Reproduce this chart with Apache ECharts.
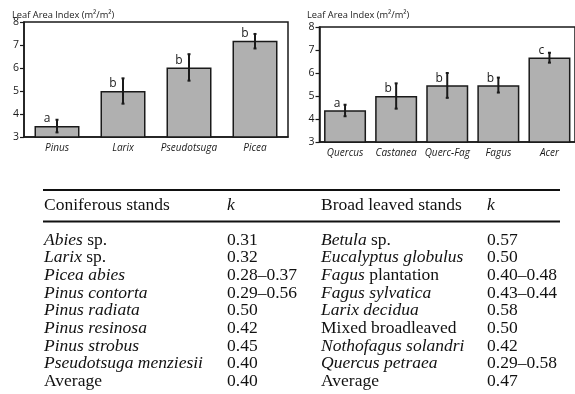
<!DOCTYPE html>
<html>
<head>
<meta charset="utf-8">
<script src="https://cdn.jsdelivr.net/npm/echarts@6/dist/echarts.min.js"></script>
<style>html,body{margin:0;padding:0;background:#fff}#c{width:575px;height:394px}</style>
</head>
<body>
<div id="c"></div>
<script>
// ---- data: left chart (coniferous) ----
const catsL = ['Pinus', 'Larix', 'Pseudotsuga', 'Picea'];
const laiL = [3.48, 5.0, 6.02, 7.18];
const errLowL = [3.2, 4.45, 5.45, 6.85];
const errHighL = [3.75, 5.55, 6.6, 7.48];
const lettersL = ['a', 'b', 'b', 'b'];
// ---- data: right chart (broadleaved) ----
const catsR = ['Quercus', 'Castanea', 'Querc-Fag', 'Fagus', 'Acer'];
const laiR = [4.38, 5.0, 5.47, 5.47, 6.67];
const errLowR = [4.12, 4.45, 4.92, 5.15, 6.45];
const errHighR = [4.62, 5.55, 6.0, 5.8, 6.88];
const lettersR = ['a', 'b', 'b', 'b', 'c'];
const yTitle = 'Leaf Area Index (m²/m²)';
const yMin = 3, yMax = 8, yStep = 1;
// ---- data: table ----
const tableHeaders = [['Coniferous stands', 'k'], ['Broad leaved stands', 'k']];
// name split into [italic part, upright part]
const coniferNames = [['Abies', ' sp.'], ['Larix', ' sp.'], ['Picea abies', ''], ['Pinus contorta', ''],
  ['Pinus radiata', ''], ['Pinus resinosa', ''], ['Pinus strobus', ''], ['Pseudotsuga menziesii', ''], ['', 'Average']];
const coniferK = ['0.31', '0.32', '0.28–0.37', '0.29–0.56', '0.50', '0.42', '0.45', '0.40', '0.40'];
const broadNames = [['Betula', ' sp.'], ['Eucalyptus globulus', ''], ['Fagus', ' plantation'], ['Fagus sylvatica', ''],
  ['Larix decidua', ''], ['', 'Mixed broadleaved'], ['Nothofagus solandri', ''], ['Quercus petraea', ''], ['', 'Average']];
const broadK = ['0.57', '0.50', '0.40–0.48', '0.43–0.44', '0.58', '0.50', '0.42', '0.29–0.58', '0.47'];

const sans = '"Open Sans", "Noto Sans", sans-serif';
const serif = '"Liberation Serif", "Times New Roman", serif';
const ink = '#1a1a1a';

function errSeries(idx, lows, highs) {
  return {
    type: 'custom', xAxisIndex: idx, yAxisIndex: idx, z: 5,
    data: lows.map((l, i) => [i, l, highs[i]]),
    encode: { x: 0, y: [1, 2] },
    renderItem: function (params, api) {
      const lo = api.coord([api.value(0), api.value(1)]);
      const hi = api.coord([api.value(0), api.value(2)]);
      const st = { stroke: ink, lineWidth: 2 };
      return { type: 'group', children: [
        { type: 'line', shape: { x1: lo[0], y1: lo[1], x2: hi[0], y2: hi[1] }, style: st },
        { type: 'line', shape: { x1: lo[0] - 1.5, y1: lo[1], x2: lo[0] + 1.5, y2: lo[1] }, style: st },
        { type: 'line', shape: { x1: hi[0] - 1.5, y1: hi[1], x2: hi[0] + 1.5, y2: hi[1] }, style: st }
      ]};
    }
  };
}
function barSeries(idx, vals, letters, bw, off) {
  return {
    type: 'bar', xAxisIndex: idx, yAxisIndex: idx, data: vals, barWidth: bw, z: 3,
    itemStyle: { color: '#b0b0b0', borderColor: ink, borderWidth: 1.5 },
    label: { show: true, position: 'top', distance: 1, offset: [off, 0], color: ink,
      fontFamily: sans, fontSize: 12, formatter: p => letters[p.dataIndex] }
  };
}
function xAx(idx, cats) {
  return { type: 'category', gridIndex: idx, data: cats,
    axisLine: { lineStyle: { color: ink, width: 1.5 } },
    axisTick: { alignWithLabel: true, length: 3, lineStyle: { color: ink, width: 1.2 } },
    axisLabel: { color: ink, fontFamily: sans, fontStyle: 'italic', fontSize: 10, margin: 6, interval: 0 } };
}
function yAx(idx) {
  return { type: 'value', gridIndex: idx, min: yMin, max: yMax, interval: yStep,
    splitLine: { show: false },
    axisLine: { show: true, lineStyle: { color: ink, width: 1.5 } },
    axisTick: { show: true, length: 4, lineStyle: { color: ink, width: 1.2 } },
    axisLabel: { color: ink, fontFamily: sans, fontSize: 10.5, margin: 5 } };
}

// ---- table graphics ----
const g = [];
const tL = 43, tR = 560;
g.push({ type: 'line', shape: { x1: tL, y1: 190, x2: tR, y2: 190 }, style: { stroke: '#111', lineWidth: 2 } });
g.push({ type: 'line', shape: { x1: tL, y1: 221.5, x2: tR, y2: 221.5 }, style: { stroke: '#111', lineWidth: 2 } });
const cols = [{ nx: 44, kx: 227, names: coniferNames, ks: coniferK, h: tableHeaders[0] },
              { nx: 321, kx: 487, names: broadNames, ks: broadK, h: tableHeaders[1] }];
const fs = 17.5;
const rich = {
  i: { fontFamily: serif, fontSize: fs, fontStyle: 'italic', fill: '#111' },
  n: { fontFamily: serif, fontSize: fs, fill: '#111' }
};
cols.forEach(c => {
  g.push({ type: 'text', x: c.nx, y: 205, style: { text: c.h[0], fontFamily: serif, fontSize: fs, fill: '#111', verticalAlign: 'middle' } });
  g.push({ type: 'text', x: c.kx, y: 205, style: { text: c.h[1], fontFamily: serif, fontSize: fs, fontStyle: 'italic', fill: '#111', verticalAlign: 'middle' } });
  c.names.forEach((nm, r) => {
    const y = 240 + r * 17.7;
    let txt = '';
    if (nm[0]) txt += '{i|' + nm[0] + '}';
    if (nm[1]) txt += '{n|' + nm[1] + '}';
    g.push({ type: 'text', x: c.nx, y: y, style: { text: txt, rich: rich, fontFamily: serif, fontSize: fs, fill: '#111', verticalAlign: 'middle' } });
    g.push({ type: 'text', x: c.kx, y: y, style: { text: c.ks[r], fontFamily: serif, fontSize: fs, fill: '#111', verticalAlign: 'middle' } });
  });
});
// chart titles
g.push({ type: 'text', x: 12, y: 15, style: { text: yTitle, fontFamily: sans, fontSize: 9.3, fill: ink, verticalAlign: 'middle' } });
g.push({ type: 'text', x: 307, y: 15, style: { text: yTitle, fontFamily: sans, fontSize: 9.3, fill: ink, verticalAlign: 'middle' } });

const chart = echarts.init(document.getElementById('c'), null, { renderer: 'canvas' });
chart.setOption({
  backgroundColor: '#fff',
  animation: false,
  grid: [
    { left: 24, top: 22, width: 264, height: 115, show: true, borderColor: ink, borderWidth: 1.5 },
    { left: 319.5, top: 27, width: 255.5, height: 115, show: true, borderColor: ink, borderWidth: 1.5 }
  ],
  xAxis: [xAx(0, catsL), xAx(1, catsR)],
  yAxis: [yAx(0), yAx(1)],
  series: [
    barSeries(0, laiL, lettersL, 45, -10),
    errSeries(0, errLowL, errHighL),
    barSeries(1, laiR, lettersR, 42, -8),
    errSeries(1, errLowR, errHighR)
  ],
  graphic: g
});
</script>
</body>
</html>
